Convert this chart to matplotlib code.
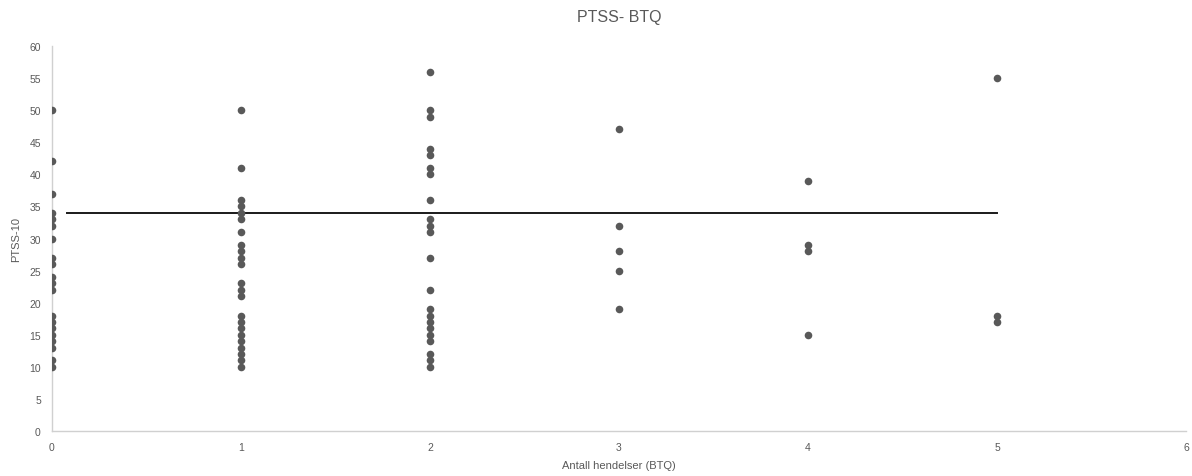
import numpy as np
import matplotlib
matplotlib.use("Agg")
import matplotlib.pyplot as plt

plt.rcParams['font.family'] = ['Liberation Sans Narrow', 'Liberation Sans', 'DejaVu Sans']

# PTSS-10 scores grouped by number of BTQ events
btq0 = [50, 42, 37, 34, 33, 32, 30, 27, 26, 24, 23, 22, 18, 17, 16, 15, 14, 13, 11, 10]
btq1 = [50, 41, 36, 35, 34, 33, 31, 29, 28, 27, 26, 23, 22, 21, 18, 17, 16, 15, 14, 13, 12, 11, 10]
btq2 = [56, 50, 49, 44, 43, 41, 40, 36, 33, 32, 31, 27, 22, 19, 18, 17, 16, 15, 14, 12, 11, 10]
btq3 = [47, 32, 28, 25, 19]
btq4 = [39, 29, 28, 15]
btq5 = [55, 18, 17]
groups = [btq0, btq1, btq2, btq3, btq4, btq5]

cutoffX = [0.08, 5.0]
cutoffY = [34, 34]

xTicks = [0, 1, 2, 3, 4, 5, 6]
yTicks = [0, 5, 10, 15, 20, 25, 30, 35, 40, 45, 50, 55, 60]

xs = np.concatenate([[i] * len(g) for i, g in enumerate(groups)])
ys = np.concatenate(groups)

fig = plt.figure(figsize=(11.92, 4.77), dpi=100)
ax = fig.add_axes([0.0436, 0.0943, 0.9514, 0.8072])

ax.scatter(xs, ys, s=30, color="#595959", zorder=3, linewidths=0)
ax.plot(cutoffX, cutoffY, color="#1a1a1a", linewidth=1.4, zorder=2)

ax.set_xlim(0, 6)
ax.set_ylim(0, 60)
ax.set_xticks(xTicks)
ax.set_yticks(yTicks)
ax.tick_params(length=0, labelsize=7.5, colors="#595959", pad=8)

for side in ["top", "right"]:
    ax.spines[side].set_visible(False)
for side in ["left", "bottom"]:
    ax.spines[side].set_color("#d0d0d0")
    ax.spines[side].set_linewidth(1)

ax.set_title("PTSS- BTQ", fontsize=11.5, color="#595959", pad=18)
ax.set_xlabel("Antall hendelser (BTQ)", fontsize=8, color="#595959", labelpad=6)
ax.set_ylabel("PTSS-10", fontsize=8, color="#595959", labelpad=6)

fig.savefig("out.png", dpi=100)
